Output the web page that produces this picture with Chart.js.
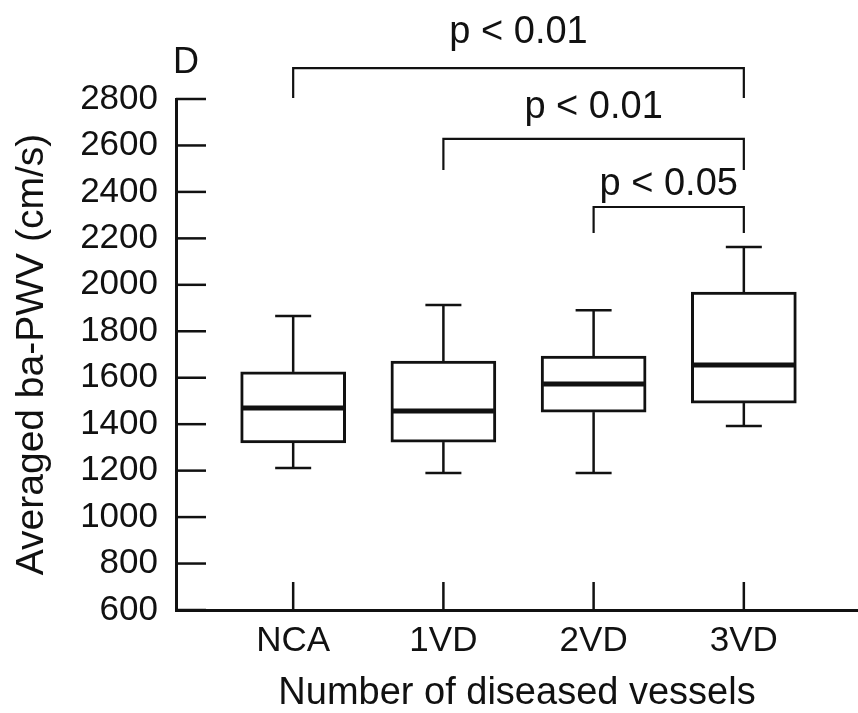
<!DOCTYPE html>
<html>
<head>
<meta charset="utf-8">
<script src="https://cdn.jsdelivr.net/npm/chart.js@4.4.1/dist/chart.umd.min.js"></script>
<style>
  html, body { margin: 0; padding: 0; background: #fff; }
  #wrap { width: 858px; height: 713px; }
</style>
</head>
<body>
<div id="wrap"><canvas id="chart"></canvas></div>
<script>
const groups = ["NCA", "1VD", "2VD", "3VD"];
const whiskerLow = [1211, 1190, 1190, 1392];
const quartile1 = [1319, 1323, 1452, 1491];
const medians = [1470, 1457, 1573, 1655];
const quartile3 = [1625, 1672, 1693, 1969];
const whiskerHigh = [1866, 1913, 1891, 2163];

// significance brackets (group index from/to, heights in cm/s)
const bracketFrom = [0, 1, 2];
const bracketTo = [3, 3, 3];
const bracketTop = [2933, 2628, 2335];
const bracketEnd = [2804, 2494, 2223];
const bracketLabelAt = [3041, 2718, 2386];
const bracketLabels = ["p < 0.01", "p < 0.01", "p < 0.05"];

const panelLetter = "D";
const ink = "#111111";
const FONT = "'Liberation Sans', Arial, sans-serif";

function strokeLine(ctx, x1, y1, x2, y2) {
  ctx.beginPath();
  ctx.moveTo(x1, y1);
  ctx.lineTo(x2, y2);
  ctx.stroke();
}

const boxPlotExtras = {
  id: "boxPlotExtras",
  afterDatasetsDraw(chart) {
    const { ctx, chartArea, scales: { x, y } } = chart;
    ctx.save();
    ctx.strokeStyle = ink;
    ctx.fillStyle = ink;

    // ticks pointing into the plot
    ctx.lineWidth = 2.5;
    y.ticks.forEach((tick) => {
      const py = y.getPixelForValue(tick.value);
      strokeLine(ctx, chartArea.left, py, chartArea.left + 30, py);
    });
    x.ticks.forEach((tick) => {
      const px = x.getPixelForValue(tick.value);
      strokeLine(ctx, px, chartArea.bottom, px, chartArea.bottom - 28);
    });

    // whiskers and medians
    const meta = chart.getDatasetMeta(0);
    groups.forEach((_g, i) => {
      const px = x.getPixelForValue(i + 1);
      const bar = meta.data[i];
      const half = bar.width / 2;
      ctx.lineWidth = 2.5;
      strokeLine(ctx, px, y.getPixelForValue(quartile3[i]), px, y.getPixelForValue(whiskerHigh[i]));
      strokeLine(ctx, px, y.getPixelForValue(quartile1[i]), px, y.getPixelForValue(whiskerLow[i]));
      strokeLine(ctx, px - 18, y.getPixelForValue(whiskerHigh[i]), px + 18, y.getPixelForValue(whiskerHigh[i]));
      strokeLine(ctx, px - 18, y.getPixelForValue(whiskerLow[i]), px + 18, y.getPixelForValue(whiskerLow[i]));
      ctx.lineWidth = 5;
      strokeLine(ctx, bar.x - half + 2, y.getPixelForValue(medians[i]), bar.x + half - 2, y.getPixelForValue(medians[i]));
    });

    // significance brackets
    ctx.lineWidth = 2.2;
    ctx.font = "38px " + FONT;
    ctx.textAlign = "center";
    ctx.textBaseline = "alphabetic";
    bracketLabels.forEach((label, i) => {
      const x1 = x.getPixelForValue(bracketFrom[i] + 1);
      const x2 = x.getPixelForValue(bracketTo[i] + 1);
      const top = y.getPixelForValue(bracketTop[i]);
      const end = y.getPixelForValue(bracketEnd[i]);
      ctx.beginPath();
      ctx.moveTo(x1, end);
      ctx.lineTo(x1, top);
      ctx.lineTo(x2, top);
      ctx.lineTo(x2, end);
      ctx.stroke();
      ctx.fillText(label, (x1 + x2) / 2, y.getPixelForValue(bracketLabelAt[i]));
    });

    // panel letter
    ctx.font = "36px " + FONT;
    ctx.textAlign = "left";
    ctx.fillText(panelLetter, chartArea.left - 3, chartArea.top - 26);
    ctx.restore();
  }
};

new Chart(document.getElementById("chart"), {
  type: "bar",
  data: {
    datasets: [{
      label: "ba-PWV",
      data: groups.map((_g, i) => ({ x: i + 1, y: [quartile1[i], quartile3[i]] })),
      backgroundColor: "#ffffff",
      borderColor: ink,
      borderWidth: 3,
      borderSkipped: false,
      barThickness: 105
    }]
  },
  plugins: [boxPlotExtras],
  options: {
    responsive: true,
    maintainAspectRatio: false,
    animation: false,
    layout: { padding: { top: 99, right: 0, bottom: 0, left: 0 } },
    plugins: {
      legend: { display: false },
      tooltip: { enabled: false }
    },
    scales: {
      x: {
        type: "linear",
        min: 0.22,
        max: 4.76,
        offset: false,
        afterBuildTicks: (scale) => {
          scale.ticks = groups.map((_g, i) => ({ value: i + 1 }));
        },
        afterFit: (scale) => { scale.height = 103; },
        ticks: {
          color: ink,
          padding: 10,
          autoSkip: false,
          maxRotation: 0,
          font: { family: FONT, size: 35 },
          callback: (value) => groups[value - 1]
        },
        grid: { display: false, drawTicks: false, offset: false },
        border: { display: true, color: ink, width: 3 },
        title: {
          display: true,
          text: "Number of diseased vessels",
          color: ink,
          padding: { top: 0, bottom: 0 },
          font: { family: FONT, size: 38, lineHeight: 1 }
        }
      },
      y: {
        min: 600,
        max: 2800,
        afterFit: (scale) => { scale.width = 176; },
        ticks: {
          stepSize: 200,
          color: ink,
          padding: 18,
          font: { family: FONT, size: 35 },
          callback: (value) => String(value)
        },
        grid: { display: false, drawTicks: false },
        border: { display: true, color: ink, width: 3 },
        title: {
          display: true,
          text: "Averaged ba-PWV (cm/s)",
          color: ink,
          padding: { top: 13, bottom: 0 },
          font: { family: FONT, size: 39, lineHeight: 1 }
        }
      }
    }
  }
});
</script>
</body>
</html>
